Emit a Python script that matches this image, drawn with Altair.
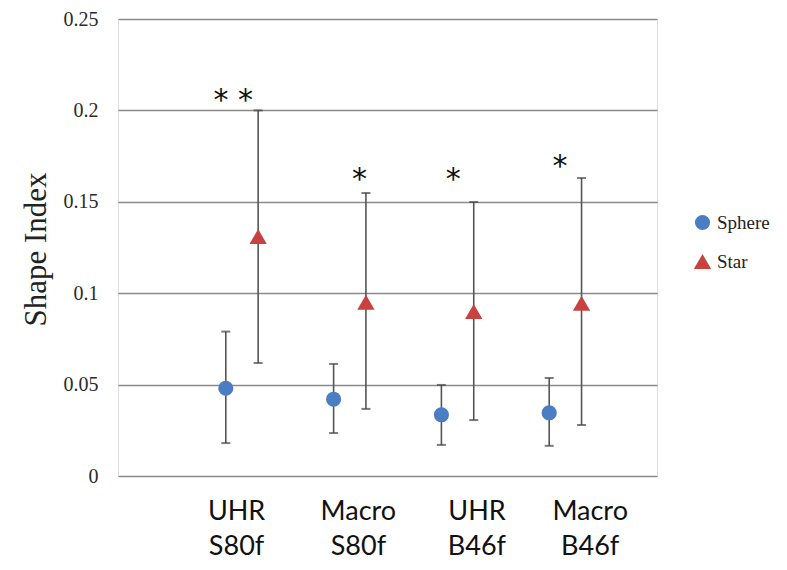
import altair as alt
import pandas as pd

# ---- data ----
groups = ["UHR S80f", "Macro S80f", "UHR B46f", "Macro B46f"]
label_lines = ["UHR\nS80f", "Macro\nS80f", "UHR\nB46f", "Macro\nB46f"]
label_pos = [1.10, 2.23, 3.33, 4.38]

sphere_x = [1.0, 2.0, 3.0, 4.0]
sphere_mean = [0.048, 0.042, 0.0335, 0.0345]
sphere_lo = [0.018, 0.0235, 0.017, 0.0165]
sphere_hi = [0.079, 0.0613, 0.0498, 0.0536]

star_x = [1.3, 2.3, 3.3, 4.3]
star_mean = [0.131, 0.095, 0.090, 0.0945]
star_lo = [0.0618, 0.0367, 0.0306, 0.0279]
star_hi = [0.200, 0.1548, 0.1499, 0.163]

sig_text = ["* *", "*", "*", "*"]
sig_x = [1.07, 2.24, 3.11, 4.10]
sig_y = [0.205, 0.162, 0.162, 0.169]

W, H = 539, 457

rows = []
for i in range(4):
    rows.append(dict(series="Sphere", group=groups[i], x=sphere_x[i], mean=sphere_mean[i],
                     lo=sphere_lo[i], hi=sphere_hi[i]))
for i in range(4):
    rows.append(dict(series="Star", group=groups[i], x=star_x[i], mean=star_mean[i],
                     lo=star_lo[i], hi=star_hi[i]))
df = pd.DataFrame(rows)

sig_df = pd.DataFrame(dict(t=sig_text, x=sig_x, y=sig_y))
lab_df = pd.DataFrame(dict(t=label_lines, x=label_pos))

xs = alt.Scale(domain=[0, 5], nice=False)
ys = alt.Scale(domain=[0, 0.25], nice=False)

xenc = alt.X("x:Q", scale=xs, axis=None)

base = alt.Chart(df)

rules = base.mark_rule(color="#555555", strokeWidth=1.6).encode(
    x=xenc,
    y=alt.Y("lo:Q", scale=ys,
            axis=alt.Axis(values=[0, 0.05, 0.1, 0.15, 0.2, 0.25], format="~g",
                          grid=True, gridColor="#8a8a8a", gridWidth=1.6,
                          ticks=False, domain=False,
                          labelFont="Liberation Serif", labelFontSize=20,
                          labelColor="#2a2a2a", labelPadding=20,
                          title="Shape Index", titleFont="Liberation Serif",
                          titleFontSize=31, titleFontWeight="normal",
                          titleColor="#222222", titleX=-82, titleY=230,
                          titleBaseline="middle", titleAngle=-90)),
    y2="hi:Q",
)

cap_lo = base.mark_tick(orient="horizontal", size=9, thickness=2, color="#444444").encode(
    x=xenc, y=alt.Y("lo:Q", scale=ys))
cap_hi = base.mark_tick(orient="horizontal", size=9, thickness=2, color="#444444").encode(
    x=xenc, y=alt.Y("hi:Q", scale=ys))

points = base.mark_point(filled=True, opacity=1, strokeWidth=0).encode(
    x=xenc,
    y=alt.Y("mean:Q", scale=ys),
    color=alt.Color("series:N",
                    scale=alt.Scale(domain=["Sphere", "Star"], range=["#4a7dc3", "#c8423f"]),
                    legend=alt.Legend(title=None, orient="none", legendX=575, legendY=194,
                                      labelFont="Liberation Serif", labelFontSize=19,
                                      labelColor="#222222", symbolSize=100,
                                      rowPadding=19, labelOffset=5, symbolStrokeWidth=0)),
    shape=alt.Shape("series:N",
                    scale=alt.Scale(domain=["Sphere", "Star"], range=["circle", "triangle-up"]),
                    legend=None),
    size=alt.Size("series:N",
                  scale=alt.Scale(domain=["Sphere", "Star"], range=[230, 300]),
                  legend=None),
)

sig = alt.Chart(sig_df).mark_text(font="DejaVu Sans", fontSize=30, color="#111111",
                                  baseline="middle").encode(
    x=alt.X("x:Q", scale=xs, axis=None),
    y=alt.Y("y:Q", scale=ys),
    text="t:N",
)

labels = alt.Chart(lab_df).mark_text(font="Lato", fontSize=27, color="#111111",
                                     baseline="top", lineBreak="\n", lineHeight=35).encode(
    x=alt.X("x:Q", scale=xs, axis=None),
    y=alt.value(H + 23),
    text="t:N",
)

chart = alt.layer(rules, cap_lo, cap_hi, points, sig, labels).properties(
    width=W, height=H,
    autosize=alt.AutoSizeParams(type="none"),
    padding={"left": 110, "top": 11, "right": 120, "bottom": 86},
).configure_view(stroke="#7a7a7a", strokeWidth=2).configure(background="white")

chart.save("out.html", embed_options={"renderer": "svg", "actions": False})
